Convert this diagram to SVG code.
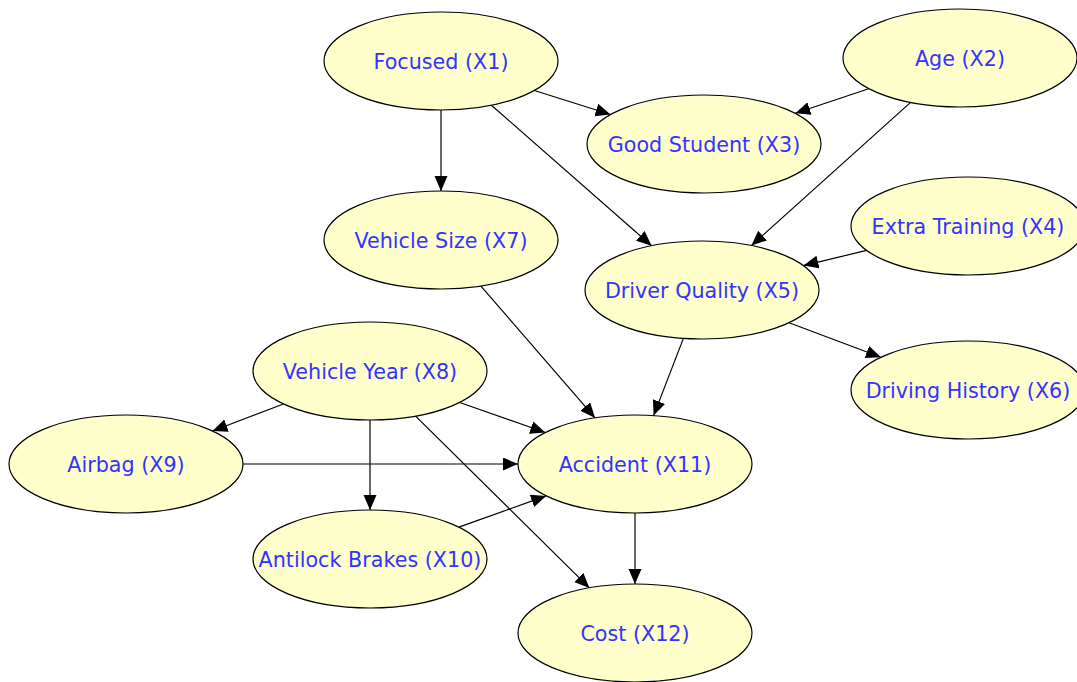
<svg xmlns="http://www.w3.org/2000/svg" width="1077" height="682" viewBox="0 0 1077 682">
<style>
.n ellipse{fill:#FFFFCC;stroke:#000;stroke-width:1.2}
.n text{font-family:"DejaVu Sans","Liberation Sans",sans-serif;font-size:20.7px;fill:#3333FF;text-anchor:middle}
.e line{stroke:#000;stroke-width:1.2;marker-end:url(#ah)}
</style>
<defs>
<marker id="ah" markerUnits="userSpaceOnUse" markerWidth="16" markerHeight="14" refX="15" refY="6.5" orient="auto">
<path d="M0,0 L15,6.5 L0,13 z" fill="#000"/>
</marker>
</defs>
<rect width="1077" height="682" fill="#fff"/>
<g id="connectors" class="e">
<line x1="534.4" y1="90.5" x2="610.6" y2="114.5"/>
<line x1="868.7" y1="88.7" x2="795.3" y2="113.3"/>
<line x1="441" y1="110" x2="441" y2="191"/>
<line x1="491.4" y1="105.2" x2="651.6" y2="245.8"/>
<line x1="910.6" y1="102.4" x2="751.4" y2="245.6"/>
<line x1="866.6" y1="250.4" x2="803.4" y2="265.6"/>
<line x1="789.1" y1="322.7" x2="880.9" y2="357.3"/>
<line x1="480.9" y1="286.1" x2="595.1" y2="417.9"/>
<line x1="683.4" y1="338.4" x2="653.6" y2="415.6"/>
<line x1="283.5" y1="404" x2="212.5" y2="431"/>
<line x1="459.7" y1="402.5" x2="545.3" y2="432.5"/>
<line x1="370" y1="420" x2="370" y2="510"/>
<line x1="415.6" y1="416.1" x2="589.4" y2="587.9"/>
<line x1="243" y1="464" x2="518" y2="464"/>
<line x1="458.9" y1="527.1" x2="546.1" y2="495.9"/>
<line x1="635" y1="513" x2="635" y2="584"/>
</g>
<g id="X1" class="n"><ellipse cx="441" cy="61" rx="117" ry="49"/><text x="441" y="69">Focused (X1)</text></g>
<g id="X2" class="n"><ellipse cx="960" cy="58" rx="117" ry="49"/><text x="960" y="66">Age (X2)</text></g>
<g id="X3" class="n"><ellipse cx="704" cy="144" rx="117" ry="49"/><text x="704" y="152">Good Student (X3)</text></g>
<g id="X4" class="n"><ellipse cx="968" cy="226" rx="117" ry="49"/><text x="968" y="234">Extra Training (X4)</text></g>
<g id="X5" class="n"><ellipse cx="702" cy="290" rx="117" ry="49"/><text x="702" y="298">Driver Quality (X5)</text></g>
<g id="X6" class="n"><ellipse cx="968" cy="390" rx="117" ry="49"/><text x="968" y="398">Driving History (X6)</text></g>
<g id="X7" class="n"><ellipse cx="441" cy="240" rx="117" ry="49"/><text x="441" y="248">Vehicle Size (X7)</text></g>
<g id="X8" class="n"><ellipse cx="370" cy="371" rx="117" ry="49"/><text x="370" y="379">Vehicle Year (X8)</text></g>
<g id="X9" class="n"><ellipse cx="126" cy="464" rx="117" ry="49"/><text x="126" y="472">Airbag (X9)</text></g>
<g id="X10" class="n"><ellipse cx="370" cy="559" rx="117" ry="49"/><text x="370" y="567">Antilock Brakes (X10)</text></g>
<g id="X11" class="n"><ellipse cx="635" cy="464" rx="117" ry="49"/><text x="635" y="472">Accident (X11)</text></g>
<g id="X12" class="n"><ellipse cx="635" cy="633" rx="117" ry="49"/><text x="635" y="641">Cost (X12)</text></g>
</svg>
